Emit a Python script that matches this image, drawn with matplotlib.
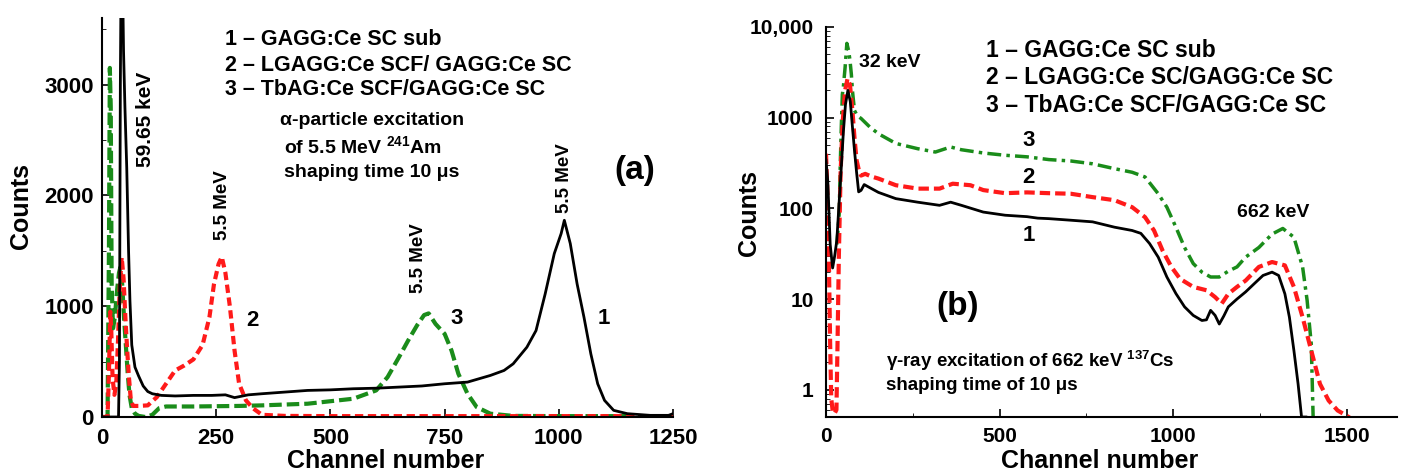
import numpy as np
import matplotlib
matplotlib.use("Agg")
import matplotlib.pyplot as plt
from matplotlib.ticker import MultipleLocator, FixedLocator, LogLocator, NullFormatter

plt.rcParams['font.family'] = ['Liberation Sans', 'DejaVu Sans']
plt.rcParams['font.weight'] = 'bold'
plt.rcParams['mathtext.fontset'] = 'custom'
plt.rcParams['mathtext.rm'] = 'Liberation Sans:bold'
plt.rcParams['mathtext.it'] = 'Liberation Sans:bold'
plt.rcParams['mathtext.bf'] = 'Liberation Sans:bold'

# ---------------------------------------------------------------------------
# (a) alpha-particle spectra, 241Am (linear scale)
# ---------------------------------------------------------------------------
a1_ch = [0, 30, 36, 38, 40, 42, 44, 47, 50, 54, 58, 61, 65, 72, 80, 90, 100, 110,
         130, 160, 200, 240, 270, 290, 320, 350, 400, 450, 500, 550, 600, 650,
         700, 750, 800, 850, 880, 900, 930, 950, 970, 990, 1005, 1012, 1025,
         1040, 1055, 1070, 1085, 1100, 1120, 1150, 1200, 1240, 1250]
a1_cnt = [0, 0, 0, 500, 3000, 4200, 4200, 3300, 2800, 2250, 1500, 1050, 650, 450,
          370, 280, 230, 210, 195, 190, 195, 195, 200, 175, 200, 210, 225, 240,
          245, 255, 260, 270, 280, 300, 315, 375, 420, 480, 630, 780, 1110, 1475,
          1655, 1775, 1565, 1200, 900, 570, 300, 150, 60, 30, 15, 15, 30]

a2_ch = [0, 12, 15, 18, 20, 23, 27, 31, 35, 39, 43, 47, 51, 55, 59, 63, 68, 80,
         100, 120, 140, 160, 180, 200, 220, 235, 245, 255, 262, 270, 280, 290,
         300, 315, 330, 350, 400, 500, 600, 700, 800, 900, 1000, 1100, 1250]
a2_cnt = [0, 0, 400, 950, 800, 350, 200, 300, 700, 1200, 1440, 1250, 900, 600,
          350, 150, 100, 100, 105, 180, 300, 420, 465, 520, 650, 900, 1200, 1380,
          1445, 1300, 990, 600, 300, 150, 80, 20, 10, 8, 8, 8, 8, 8, 8, 8, 8]

a3_ch = [0, 12, 15, 17, 19, 21, 24, 28, 33, 37, 40, 44, 48, 52, 56, 60, 65, 72,
         80, 95, 110, 125, 140, 200, 300, 350, 450, 550, 600, 625, 650, 670, 690,
         705, 715, 730, 750, 765, 780, 800, 820, 850, 900, 1000, 1100, 1250]
a3_cnt = [0, 0, 1500, 3150, 2800, 1200, 800, 900, 1150, 1300, 1350, 1200, 900,
          650, 400, 200, 80, 30, 10, 0, 20, 80, 95, 95, 100, 105, 120, 165, 240,
          360, 540, 690, 830, 920, 935, 840, 750, 600, 390, 210, 90, 30, 10, 8, 8, 8]

# ---------------------------------------------------------------------------
# (b) gamma-ray spectra, 137Cs (log scale)
# ---------------------------------------------------------------------------
b1_ch = [0, 5, 12, 19, 25, 31, 38, 44, 50, 56, 63, 70, 76, 82, 88, 94, 101, 110,
         125, 151, 201, 264, 327, 359, 390, 453, 516, 579, 610, 642, 705, 768,
         831, 882, 907, 932, 957, 982, 1008, 1033, 1058, 1083, 1096, 1108, 1121,
         1133, 1146, 1159, 1184, 1209, 1234, 1259, 1285, 1304, 1322, 1335, 1348,
         1360, 1370, 1385, 1390]
b1_cnt = [340, 200, 40, 22, 30, 44, 120, 285, 700, 1400, 2000, 1500, 800, 435,
          250, 152, 158, 183, 170, 150, 128, 117, 108, 117, 108, 91, 84, 81, 78,
          77, 74, 71, 62, 57, 53, 41, 29, 17.5, 11.5, 8.2, 6.6, 5.8, 5.9, 7.5,
          6.6, 5.3, 6.5, 8.2, 10, 12, 14.8, 18.2, 19.8, 18.2, 11.4, 6.3, 2.7,
          1.16, 0.5, 0.5, 0.3]

b2_ch = [0, 4, 8, 12, 15, 20, 25, 30, 33, 37, 42, 48, 55, 62, 69, 76, 82, 88, 95,
         101, 113, 130, 151, 201, 264, 327, 365, 416, 453, 516, 579, 642, 705,
         768, 831, 882, 919, 945, 970, 995, 1020, 1058, 1096, 1121, 1140, 1159,
         1184, 1209, 1247, 1285, 1322, 1348, 1373, 1398, 1423, 1448, 1474, 1499,
         1524]
b2_cnt = [400, 150, 30, 3, 0.8, 0.55, 0.55, 0.6, 3, 30, 250, 900, 2000, 2700,
          2300, 1200, 600, 340, 260, 230, 240, 225, 213, 180, 165, 165, 187, 180,
          159, 147, 150, 147, 145, 133, 123, 103, 80, 57, 34, 22.6, 16.7, 13.6,
          12.5, 10.5, 8.9, 11.4, 13.6, 16, 22.6, 25.6, 23.5, 13.6, 6.3, 2.7, 1.16,
          0.76, 0.59, 0.52, 0.45]

b3_ch = [31, 35, 38, 41, 44, 47, 50, 55, 60, 65, 69, 73, 76, 82, 90, 101, 126,
         151, 201, 264, 315, 359, 390, 453, 516, 579, 642, 705, 768, 831, 882,
         919, 957, 982, 1008, 1033, 1058, 1083, 1108, 1133, 1159, 1184, 1209,
         1247, 1285, 1316, 1348, 1373, 1386, 1398, 1404]
b3_cnt = [40, 60, 88, 300, 790, 1800, 2200, 3600, 6600, 5500, 4300, 3000, 2000,
          1200, 1050, 980, 790, 665, 520, 455, 418, 475, 443, 408, 385, 370, 345,
          333, 310, 274, 250, 222, 145, 103, 62, 37, 24.6, 19.8, 17.5, 17.5, 20.3,
          22.6, 29, 37, 52, 60, 48, 22.6, 9.7, 3.2, 0.4]

legend_a = ['1 – GAGG:Ce SC sub', '2 – LGAGG:Ce SCF/ GAGG:Ce SC',
            '3 – TbAG:Ce SCF/GAGG:Ce SC']
legend_b = ['1 – GAGG:Ce SC sub', '2 – LGAGG:Ce SC/GAGG:Ce SC',
            '3 – TbAG:Ce SCF/GAGG:Ce SC']

RED = '#ff1a1a'
GREEN = '#1a8c1a'

fig = plt.figure(figsize=(14.06, 4.72), dpi=100)
ax1 = fig.add_axes([0.0726, 0.1165, 0.4061, 0.8453])
ax2 = fig.add_axes([0.5875, 0.1165, 0.4061, 0.8263])

# ----- panel (a) -----
ax1.plot(a3_ch, a3_cnt, color=GREEN, lw=3, linestyle=(0, (3, 1.2)))
ax1.plot(a2_ch, a2_cnt, color=RED, lw=3, linestyle=(0, (2, 1.1)))
ax1.plot(a1_ch, a1_cnt, color='black', lw=2)

ax1.set_xlim(0, 1250)
ax1.set_ylim(0, 3600)
ax1.xaxis.set_major_locator(MultipleLocator(250))
ax1.yaxis.set_major_locator(MultipleLocator(1000))
ax1.yaxis.set_minor_locator(MultipleLocator(500))
ax1.tick_params(direction='in', labelsize=16, width=1.2, length=6, pad=6)
ax1.tick_params(axis='x', pad=8)
ax1.tick_params(which='minor', direction='in', length=3)
for s in ['top', 'right']:
    ax1.spines[s].set_visible(False)
for s in ['left', 'bottom']:
    ax1.spines[s].set_linewidth(1.5)
ax1.set_xlabel('Channel number', fontsize=18, fontweight='bold')
ax1.set_ylabel('Counts', fontsize=18, fontweight='bold')
ax1.xaxis.set_label_coords(0.496, -0.08)
ax1.yaxis.set_label_coords(-0.121, 0.53)

for txt, yy in zip(legend_a, [3405, 3171, 2955]):
    ax1.text(269, yy, txt, fontsize=15.5, fontweight='bold', va='center')
ax1.text(389, 2676, 'α-particle excitation', fontsize=14, fontweight='bold', va='center')
ax1.text(398, 2441, 'of 5.5 MeV $^{241}$Am', fontsize=14, fontweight='bold', va='center')
ax1.text(398, 2207, 'shaping time 10 μs', fontsize=14, fontweight='bold', va='center')
ax1.text(95, 2690, '59.65 keV', fontsize=15, fontweight='bold', rotation=90,
         ha='center', va='center')
ax1.text(263, 1911, '5.5 MeV', fontsize=13.5, fontweight='bold', rotation=90,
         ha='center', va='center')
ax1.text(692, 1430, '5.5 MeV', fontsize=13.5, fontweight='bold', rotation=90,
         ha='center', va='center')
ax1.text(1012, 2152, '5.5 MeV', fontsize=13.5, fontweight='bold', rotation=90,
         ha='center', va='center')
ax1.text(330, 873, '2', fontsize=16, fontweight='bold', ha='center', va='center')
ax1.text(777, 888, '3', fontsize=16, fontweight='bold', ha='center', va='center')
ax1.text(1098, 888, '1', fontsize=16, fontweight='bold', ha='center', va='center')
ax1.text(1167, 2221, '(a)', fontsize=24, fontweight='bold', ha='center', va='center')

# ----- panel (b) -----
ax2.plot(b3_ch, b3_cnt, color=GREEN, lw=2.5, linestyle=(0, (4, 1.5, 1, 1.5)))
ax2.plot(b2_ch, b2_cnt, color=RED, lw=3, linestyle=(0, (2.5, 1.2)))
ax2.plot(b1_ch, b1_cnt, color='black', lw=2)

ax2.set_yscale('log')
ax2.set_xlim(0, 1645)
ax2.set_ylim(0.5, 10000)
ax2.xaxis.set_major_locator(MultipleLocator(500))
ax2.xaxis.set_minor_locator(MultipleLocator(250))
ax2.yaxis.set_major_locator(FixedLocator([1, 10, 100, 1000, 10000]))
ax2.set_yticklabels(['1', '10', '100', '1000', '10,000'])
ax2.yaxis.set_minor_locator(LogLocator(base=10, subs=np.arange(2, 10)))
ax2.yaxis.set_minor_formatter(NullFormatter())
ax2.tick_params(direction='in', labelsize=15, width=1.2, length=6, pad=9)
ax2.tick_params(axis='x', pad=7)
ax2.tick_params(which='minor', direction='in', length=3)
for s in ['top', 'right']:
    ax2.spines[s].set_visible(False)
for s in ['left', 'bottom']:
    ax2.spines[s].set_linewidth(1.5)
ax2.set_xlabel('Channel number', fontsize=18, fontweight='bold')
ax2.set_ylabel('Counts', fontsize=18, fontweight='bold')
ax2.xaxis.set_label_coords(0.48, -0.082)
ax2.yaxis.set_label_coords(-0.114, 0.523)

for txt, yy in zip(legend_b, [5530, 2770, 1370]):
    ax2.text(462, yy, txt, fontsize=16.5, fontweight='bold', va='center')
ax2.text(94, 4110, '32 keV', fontsize=14, fontweight='bold', va='center')
ax2.text(1287, 91, '662 keV', fontsize=14, fontweight='bold', ha='center', va='center')
ax2.text(583, 561, '3', fontsize=16, fontweight='bold', ha='center', va='center')
ax2.text(583, 220, '2', fontsize=16, fontweight='bold', ha='center', va='center')
ax2.text(583, 50, '1', fontsize=16, fontweight='bold', ha='center', va='center')
ax2.text(378, 8.2, '(b)', fontsize=24, fontweight='bold', ha='center', va='center')
ax2.text(174, 2.1, 'γ-ray excitation of 662 keV $^{137}$Cs', fontsize=13.5,
         fontweight='bold', va='center')
ax2.text(174, 1.12, 'shaping time of 10 μs', fontsize=13.5, fontweight='bold',
         va='center')

fig.savefig('out.png', dpi=100)
